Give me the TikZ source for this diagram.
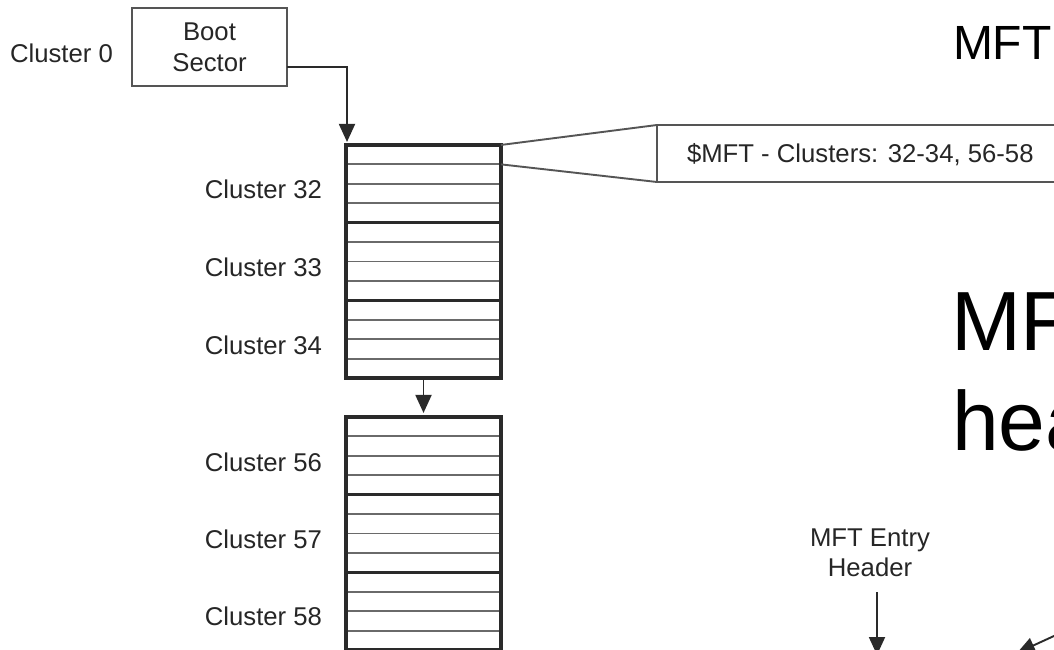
\documentclass[tikz,border=0pt]{standalone}
\usepackage{fontspec}
\setmainfont{Liberation Sans}
\usetikzlibrary{arrows.meta,calc}
\definecolor{ink}{HTML}{2A2A2A}
\definecolor{rowc}{HTML}{6A6A6A}
\definecolor{txt}{HTML}{262626}
\begin{document}
\begin{tikzpicture}[x=1pt,y=-1pt,
  lbl/.style={font=\fontsize{25.7}{31}\selectfont, text=txt, inner sep=0pt, outer sep=0pt},
  clus/.style={draw=ink, line width=3.4pt, minimum width=155pt, minimum height=77.7pt, inner sep=0pt, outer sep=0pt},
  rowl/.style={draw=rowc, line width=1.9pt, shorten <=1.7pt, shorten >=1.7pt},
  thinbox/.style={draw=ink!80, line width=1.9pt, inner sep=0pt, outer sep=0pt},
  arr/.style={draw=ink, line width=1.9pt, -{Triangle[width=16pt,length=18pt]}},
  bigtxt/.style={text=black, inner sep=0pt, outer sep=0pt}]
\useasboundingbox (0,0) rectangle (1054,650);
\clip (0,0) rectangle (1054,650);
\fill[white] (0,0) rectangle (1054,650);

% Boot sector
\node[thinbox, minimum width=155pt, minimum height=78pt, lbl, align=center] (boot) at (209.5,47) {Boot\\Sector};
\node[lbl, anchor=base west] (c0lbl) at (10,63) {Cluster 0};

% MFT clusters, first run
\node[clus] (c32) at (423.5,183.8) {};
\node[clus] (c33) at (423.5,261.5) {};
\node[clus] (c34) at (423.5,339.2) {};
% second run
\node[clus] (c56) at (423.5,455.8) {};
\node[clus] (c57) at (423.5,533.5) {};
\node[clus] (c58) at (423.5,611.2) {};

\foreach \c in {c32,c33,c34,c56,c57,c58}{
  \foreach \f in {0.25,0.5,0.75}{
    \draw[rowl] ($(\c.north west)!\f!(\c.south west)$) -- ($(\c.north east)!\f!(\c.south east)$);
  }
}

% cluster labels
\node[lbl, anchor=base east] (l32) at (322,198) {Cluster 32};
\node[lbl, anchor=base east] (l33) at (322,276) {Cluster 33};
\node[lbl, anchor=base east] (l34) at (322,354) {Cluster 34};
\node[lbl, anchor=base east] (l56) at (322,471) {Cluster 56};
\node[lbl, anchor=base east] (l57) at (322,548) {Cluster 57};
\node[lbl, anchor=base east] (l58) at (322,625) {Cluster 58};

% arrows
\draw[arr, shorten >=3pt] ([yshift=-20pt]boot.east) -| ([xshift=1pt]c32.north west);
\draw[arr, shorten >=4pt] (c34.south) -- (c56.north);

% callout
\node[thinbox, minimum width=420pt, minimum height=57pt, anchor=north west] (callout) at (657,125) {};
\node[lbl, anchor=base west] (callouttxt) at (687,162) {\$MFT - Clusters: 32-34, 56-58};
\coordinate (r1) at ($(c32.north east)!0.25!(c32.south east)$);
\draw[draw=ink!80, line width=1.9pt] (c32.north east) -- (callout.north west);
\draw[draw=ink!80, line width=1.9pt] (r1) -- (callout.south west);

% titles
\node[bigtxt, anchor=base west, font=\fontsize{48}{56}\selectfont] (title) at (953,60) {MFT};
\node[bigtxt, anchor=base west, font=\fontsize{84}{100}\selectfont] (big1) at (951,350) {MF};
\node[bigtxt, anchor=base west, font=\fontsize{84}{100}\selectfont] (big2) at (952,450) {hea};

% MFT entry header
\node[lbl, align=center, font=\fontsize{25.7}{30}\selectfont] (entry) at (870,553) {MFT Entry\\Header};
\coordinate (tipA) at (877,655);
\draw[arr] (tipA |- 0,592) -- (tipA);
\coordinate (brs) at (1080,624);
\coordinate (brt) at (1017,653);
\draw[arr] (brs) -- (brt);
\end{tikzpicture}
\end{document}
